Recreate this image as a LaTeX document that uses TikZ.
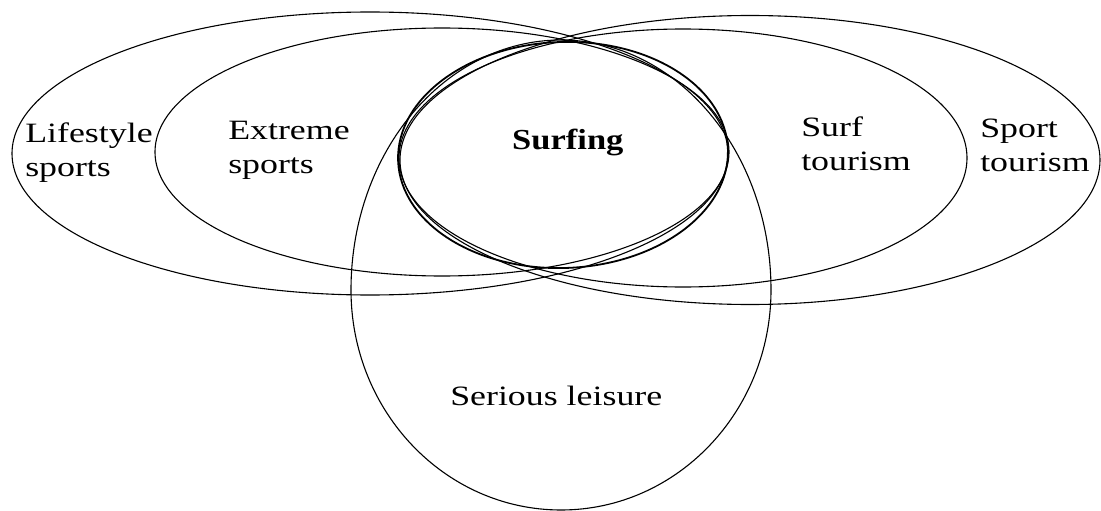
\documentclass[tikz,border=0pt]{standalone}
\usepackage{fontspec}
\setmainfont{Liberation Serif}
\begin{document}
\begin{tikzpicture}[x=1pt,y=-1pt,
  venn/.style={draw=black, line width=1.1pt},
  surfline/.style={draw=black, line width=1.8pt},
  lbl/.style={inner sep=0pt, anchor=north west, align=left,
    font=\fontsize{28}{34}\selectfont, text=black, xscale=1.28, transform shape}]
\useasboundingbox (0,0) rectangle (1101,511);
% Lifestyle sports
\draw[venn] (370,153.5) ellipse [x radius=358, y radius=141.5];
% Extreme sports
\draw[venn] (442,152) ellipse [x radius=287, y radius=124];
% Surf tourism
\draw[venn] (683,158) ellipse [x radius=284, y radius=129];
% Sport tourism
\draw[venn] (750,160) ellipse [x radius=350, y radius=144.5];
% Serious leisure (egg shape)
\draw[venn] (351,290) arc[start angle=180, end angle=360, x radius=210, y radius=250]
  arc[start angle=0, end angle=180, x radius=210, y radius=220] -- cycle;
% Surfing
\draw[surfline, rotate around={2:(563,155)}] (563,155) ellipse [x radius=165, y radius=113];
% labels
\node[lbl] (life) at (25,123) {Lifestyle\\sports};
\node[lbl] (extr) at (228,121) {Extreme\\sports};
\node[lbl, font=\fontsize{29}{34}\selectfont\bfseries, xscale=0.93] (surf) at (512,129) {Surfing};
\node[lbl] (surft) at (801,117) {Surf\\tourism};
\node[lbl] (sportt) at (980,119) {Sport\\tourism};
\node[lbl] (ser) at (450,386) {Serious leisure};
\end{tikzpicture}
\end{document}
